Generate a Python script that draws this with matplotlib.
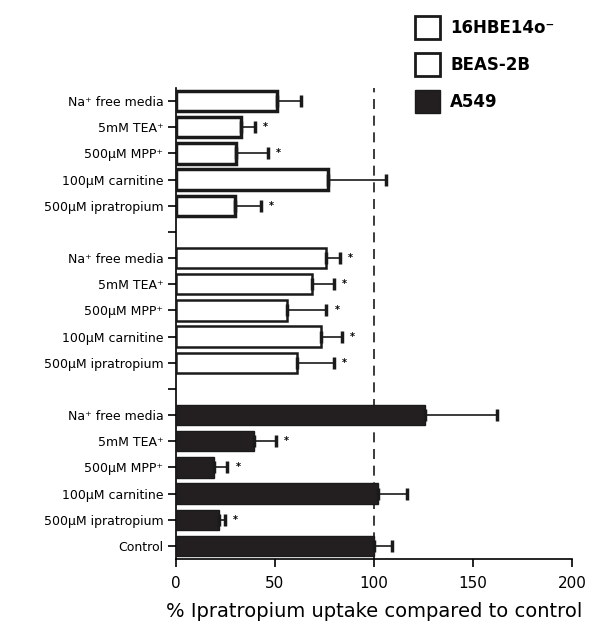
import matplotlib
matplotlib.use("Agg")
import matplotlib.pyplot as plt
from matplotlib.patches import Patch
import numpy as np

plt.rcParams['font.family'] = ['DejaVu Sans']

treatments = ["Na⁺ free media", "5mM TEA⁺", "500µM MPP⁺", "100µM carnitine", "500µM ipratropium"]
series_names = ["16HBE14o⁻", "BEAS-2B", "A549"]

hbe_values = [51, 33, 30.5, 77, 30]
hbe_errors = [12, 7, 16, 29, 13]
hbe_sig = [False, True, True, False, True]

beas_values = [76, 68.5, 56, 73, 61]
beas_errors = [7, 11.5, 20, 11, 19]
beas_sig = [True, True, True, True, True]

a549_values = [126, 39.5, 19, 102, 21.5, 100]
a549_errors = [36, 11, 7, 14.5, 3, 9]
a549_sig = [False, True, True, False, True, False]
a549_labels = treatments + ["Control"]

fig = plt.figure(figsize=(5.91, 6.33), dpi=100)
ax = fig.add_axes([176/591, 1-559/633, (572-176)/591, (559-88)/633])

pos_hbe = np.arange(0, 5)
pos_beas = np.arange(6, 11)
pos_a549 = np.arange(12, 18)
h = 0.78

def draw(pos, vals, errs, sig, face, lw):
    ax.barh(pos, vals, height=h, color=face, edgecolor='#1a1a1a', linewidth=lw, zorder=3)
    ax.errorbar(vals, pos, xerr=[np.zeros(len(vals)), errs], fmt='none',
                ecolor='#1a1a1a', elinewidth=1.2, capsize=4, capthick=2.5, zorder=4)
    for p, v, e, s in zip(pos, vals, errs, sig):
        if s:
            ax.text(v + e + 4, p, "*", fontsize=7, fontweight='bold', ha='left', va='center', zorder=5)

draw(pos_hbe, hbe_values, hbe_errors, hbe_sig, 'white', 2.5)
draw(pos_beas, beas_values, beas_errors, beas_sig, 'white', 1.8)
draw(pos_a549, a549_values, a549_errors, a549_sig, '#231f20', 1.0)

ax.axvline(100, color='#1a1a1a', linestyle=(0, (6, 4)), linewidth=1.2, zorder=2)

ticks = list(pos_hbe) + [5] + list(pos_beas) + [11] + list(pos_a549)
labels = treatments + [""] + treatments + [""] + a549_labels
ax.set_yticks(ticks)
ax.set_yticklabels(labels, fontsize=9)
ax.set_ylim(17.5, -0.5)
ax.set_xlim(0, 200)
ax.set_xticks([0, 50, 100, 150, 200])
ax.tick_params(axis='x', labelsize=11, length=6, width=1.2, pad=6)
ax.tick_params(axis='y', length=6, width=1.2, pad=3)
for s in ['top', 'right']:
    ax.spines[s].set_visible(False)
for s in ['left', 'bottom']:
    ax.spines[s].set_linewidth(1.2)
ax.set_xlabel("% Ipratropium uptake compared to control", fontsize=14, labelpad=8)

handles = [Patch(facecolor='white', edgecolor='#1a1a1a', linewidth=2),
           Patch(facecolor='white', edgecolor='#1a1a1a', linewidth=2),
           Patch(facecolor='#231f20', edgecolor='#1a1a1a', linewidth=1)]
fig.legend(handles, series_names, loc='upper left', bbox_to_anchor=(415/591, 1-16/633),
           frameon=False, prop={'size': 12, 'weight': 'bold'}, handlelength=1.5,
           handleheight=1.75, labelspacing=0.85, handletextpad=0.6,
           borderaxespad=0, borderpad=0)

fig.savefig("out.png", dpi=100)
